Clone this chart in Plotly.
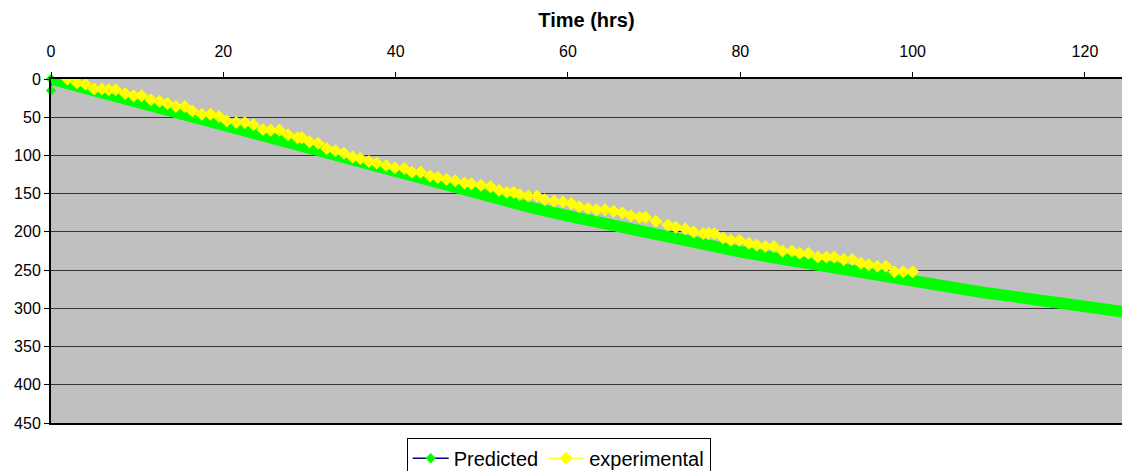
import plotly.graph_objects as go

# ---- Data ----
predicted_time = [0, 4, 8, 12, 16, 20, 24, 28, 32, 36, 40, 44, 48, 52, 56, 60, 64, 68,
                  72, 76, 80, 84, 88, 92, 96, 100, 104, 108, 112, 116, 120, 124, 126]
predicted_depth = [0, 12, 25, 37, 49, 61, 74, 86, 99, 111, 123, 135, 147, 158, 169, 179, 189, 199,
                   208, 217, 226, 234, 242, 250, 257, 265, 272, 279, 285, 291, 297, 304, 307]
predicted_start_time = [0, 0]
predicted_start_depth = [0, 15]

exp_time = [1.9, 3.0, 4.0, 5.0, 5.9, 6.7, 7.5, 8.6, 9.6, 10.5, 11.6, 12.6, 13.5, 14.5, 15.5, 16.4,
            17.5, 18.5, 19.5,
            20.4, 21.5, 22.5, 23.5, 24.6, 25.5, 26.5, 27.5, 28.6, 29.1, 30.0, 31.0, 32.0, 33.0,
            34.0, 35.0, 35.9, 36.9, 37.8, 38.9, 39.9,
            41.0, 41.9, 42.9, 44.0, 44.9, 45.9, 46.9, 48.0, 48.8, 49.9, 51.0, 52.0, 52.9, 53.7,
            54.4, 55.4, 56.4, 57.3, 58.4, 59.4, 60.4, 61.3,
            62.3, 63.3, 64.3, 65.3, 66.3, 67.3, 68.3, 69.0, 70.2, 71.6, 72.5, 73.6, 74.6, 75.7,
            76.3, 77.0, 78.0, 78.9, 79.9, 81.0, 81.9,
            82.9, 83.9, 84.9, 86.0, 86.9, 87.9, 89.0, 90.0, 90.9, 92.0, 93.0, 94.0, 94.9, 95.9,
            96.9, 97.9, 98.9, 100.0]
exp_depth = [0, 5, 7, 13, 13, 14, 14, 19, 22, 22, 27, 29, 32, 36, 36, 42, 46, 46, 49,
             55, 57, 57, 60, 66, 67, 67, 73, 77, 77, 82, 84, 91, 94, 97, 102, 104, 108, 110, 113, 116,
             117, 122, 122, 127, 129, 131, 133, 136, 137, 139, 141, 146, 148, 148, 151, 153, 153,
             158, 160, 161, 163, 167,
             169, 171, 171, 173, 175, 179, 181, 181, 186, 191, 194, 196, 200, 202, 202, 202, 208,
             211, 211, 215, 217,
             219, 219, 225, 225, 228, 228, 233, 233, 233, 236, 236, 241, 243, 245, 245, 252, 252, 252]

x_ticks = [0, 20, 40, 60, 80, 100, 120]
y_ticks = [0, 50, 100, 150, 200, 250, 300, 350, 400, 450]

GREEN = "#00FF00"
YELLOW = "#FFFF00"
NAVY = "#000080"
FONT = "Liberation Sans, Arial, sans-serif"

fig = go.Figure()

# Predicted: dense green markers drawn as a thick band
fig.add_trace(go.Scatter(
    x=predicted_time, y=predicted_depth, mode="lines",
    line=dict(color=GREEN, width=11.5), showlegend=False, hoverinfo="skip"))
fig.add_trace(go.Scatter(
    x=predicted_start_time, y=predicted_start_depth, mode="lines+markers",
    line=dict(color=NAVY, width=1),
    marker=dict(symbol="diamond", color=GREEN, size=8),
    cliponaxis=False, showlegend=False, hoverinfo="skip"))
# Legend entry for Predicted
fig.add_trace(go.Scatter(
    x=[None], y=[None], mode="lines+markers", name="Predicted",
    line=dict(color=NAVY, width=1.5),
    marker=dict(symbol="diamond", color=GREEN, size=8)))
# Experimental
fig.add_trace(go.Scatter(
    x=exp_time, y=exp_depth, mode="lines+markers", name="experimental",
    line=dict(color=YELLOW, width=1),
    marker=dict(symbol="diamond", color=YELLOW, size=10)))

# Figure is a little taller than the window so the legend box is cut off at the bottom
fig.update_layout(
    width=1122, height=482, autosize=False,
    margin=dict(l=51, r=0, t=79, b=59, pad=0),
    paper_bgcolor="white", plot_bgcolor="#C0C0C0",
    font=dict(family=FONT, size=16, color="black"),
    legend=dict(orientation="h", x=0.474, xanchor="center", y=-0.043, yanchor="top",
                bgcolor="white", bordercolor="black", borderwidth=1,
                font=dict(family=FONT, size=20, color="black"),
                itemwidth=36, tracegroupgap=0),
)
fig.update_xaxes(
    side="top", range=[0, 124.3], tickvals=x_ticks, ticktext=[str(v) for v in x_ticks],
    showgrid=False, zeroline=False, showline=True, linecolor="black", linewidth=1.5,
    mirror=True, ticks="outside", ticklen=5, tickcolor="black", ticklabelstandoff=9,
    tickfont=dict(family=FONT, size=16, color="black"),
    title=dict(text="<b>Time (hrs)</b>", font=dict(family=FONT, size=20, color="black"),
               standoff=10),
)
fig.update_yaxes(
    range=[450, 0], tickvals=y_ticks, ticktext=[str(v) for v in y_ticks],
    showgrid=True, gridcolor="#333333", gridwidth=1, zeroline=False,
    showline=True, linecolor="black", linewidth=2,
    ticks="outside", ticklen=5, tickcolor="black",
    tickfont=dict(family=FONT, size=16, color="black"),
)

fig.write_html("out.html", config={"displayModeBar": False},
               post_script="document.body.style.margin='0';document.body.style.overflow='hidden';")
